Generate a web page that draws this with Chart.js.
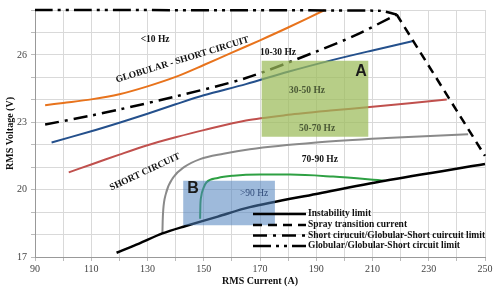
<!DOCTYPE html>
<html>
<head>
<meta charset="utf-8">
<script src="https://cdn.jsdelivr.net/npm/chart.js@4.4.1/dist/chart.umd.min.js"></script>
<style>
  html, body { margin: 0; padding: 0; background: #fff; }
</style>
</head>
<body>
<canvas id="myChart" width="500" height="291"></canvas>
<script>
// curves: current (A) / voltage (V)
const globShortI = [93.6, 100, 110, 120, 130, 140, 150, 160, 170, 180, 193];
const globShortV = [23.76, 23.86, 24.02, 24.25, 24.6, 25.02, 25.55, 26.1, 26.65, 27.22, 28.0];

const shortLimitI = [93.6, 110, 120, 140, 165, 190, 204, 218.6];
const shortLimitV = [22.9, 23.3, 23.57, 24.15, 24.97, 26.15, 26.88, 27.8];

const hz30I = [95.9, 110, 120, 130, 140, 150, 165, 180, 196, 210, 224.5];
const hz30V = [22.1, 22.6, 22.98, 23.38, 23.8, 24.2, 24.7, 25.25, 25.78, 26.2, 26.62];

const hz50I = [102, 110, 120, 130, 140, 150, 165, 180, 195, 210, 236.4];
const hz50V = [20.77, 21.12, 21.56, 21.98, 22.33, 22.65, 23.08, 23.33, 23.52, 23.69, 24.01];

const hz70I = [135.3, 135.4, 135.6, 136.5, 139.2, 143, 148.7, 157, 166.4, 190, 215, 244];
const hz70V = [18.05, 18.6, 19.1, 19.8, 20.55, 21.0, 21.36, 21.6, 21.8, 22.1, 22.3, 22.47];

const hz90I = [148.7, 148.8, 149.1, 150, 151, 155, 160.5, 170, 180.7, 196, 214.4];
const hz90V = [18.7, 19.3, 19.7, 20.1, 20.33, 20.52, 20.62, 20.67, 20.67, 20.58, 20.4];

const instabI = [119, 127, 135.3, 143.3, 155, 166.4, 190, 214.4, 250];
const instabV = [17.19, 17.6, 18.05, 18.37, 18.8, 19.22, 19.81, 20.4, 21.14];

const globLimitI = [90, 212, 218.6];
const globLimitV = [28, 27.97, 27.8];

const sprayI = [218.6, 250];
const sprayV = [27.8, 21.5];

// shaded regions A and B: [min, max]
const boxAI = [170.6, 208.5];
const boxAV = [22.36, 25.74];
const boxBI = [142.7, 175.3];
const boxBV = [18.41, 20.4];

const legendLabels = [
  "Instability limit",
  "Spray transition current",
  "Short cirucuit/Globular-Short cuircuit limit",
  "Globular/Globular-Short circuit limit",
];

const noteText = ["<10 Hz", "GLOBULAR - SHORT CIRCUIT", "10-30 Hz", "30-50 Hz", "50-70 Hz",
  "SHORT CIRCUIT", "70-90 Hz", ">90 Hz", "A", "B"];
const noteI = [132.7, 142.4, 176.4, 186.7, 190.3, 129.1, 191.3, 167.9, 205.9, 146.2];
const noteV = [26.68, 25.78, 26.1, 24.42, 22.74, 20.78, 21.33, 19.83, 25.26, 20.05];

const pts = (xs, ys) => xs.map((x, i) => ({ x: x, y: ys[i] }));
const rect = (xs, ys) => [
  { x: xs[0], y: ys[0] }, { x: xs[1], y: ys[0] }, { x: xs[1], y: ys[1] },
  { x: xs[0], y: ys[1] }, { x: xs[0], y: ys[0] },
];

const noteStyle = [
  { font: "bold 9.5px 'Liberation Serif'", color: "#111", angle: 0 },
  { font: "bold 9.5px 'Liberation Serif'", color: "#111", angle: -17 },
  { font: "bold 9.5px 'Liberation Serif'", color: "#111", angle: 0 },
  { font: "bold 9.5px 'Liberation Serif'", color: "#4b5a36", angle: 0 },
  { font: "bold 9.5px 'Liberation Serif'", color: "#4b5a36", angle: 0 },
  { font: "bold 9.5px 'Liberation Serif'", color: "#111", angle: -25 },
  { font: "bold 9.5px 'Liberation Serif'", color: "#111", angle: 0 },
  { font: "9.5px 'Liberation Serif'", color: "#2f4a78", angle: 0 },
  { font: "bold 16px 'Liberation Sans'", color: "#1a1a1a", angle: 0 },
  { font: "bold 16px 'Liberation Sans'", color: "#1a1a1a", angle: 0 },
];

const notesPlugin = {
  id: "notes",
  afterDatasetsDraw(chart) {
    const { ctx, scales: { x, y } } = chart;
    noteText.forEach((t, i) => {
      const s = noteStyle[i];
      ctx.save();
      ctx.translate(x.getPixelForValue(noteI[i]), y.getPixelForValue(noteV[i]));
      ctx.rotate(s.angle * Math.PI / 180);
      ctx.font = s.font;
      ctx.fillStyle = s.color;
      ctx.textAlign = "center";
      ctx.textBaseline = "middle";
      ctx.fillText(t, 0, 0);
      ctx.restore();
    });

    // legend inside the plot, bottom right
    const rows = [214, 225, 235.5, 246];
    legendLabels.forEach((label, i) => {
      const ds = chart.data.datasets[i];
      ctx.save();
      ctx.strokeStyle = "#000";
      ctx.lineWidth = 2.5;
      ctx.setLineDash(ds.borderDash || []);
      ctx.beginPath();
      ctx.moveTo(253, rows[i]);
      ctx.lineTo(306, rows[i]);
      ctx.stroke();
      ctx.font = "bold 9.5px 'Liberation Serif'";
      ctx.fillStyle = "#111";
      ctx.textBaseline = "middle";
      ctx.fillText(label, 308, rows[i]);
      ctx.restore();
    });
  },
};

const line = (data, color, width, dash, mono) => ({
  data: data,
  showLine: true,
  borderColor: color,
  borderWidth: width,
  borderDash: dash,
  pointRadius: 0,
  fill: false,
  clip: false,
  tension: 0.3,
  cubicInterpolationMode: mono ? "monotone" : "default",
});

const ctx = document.getElementById("myChart");

new Chart(ctx, {
  type: "scatter",
  data: {
    datasets: [
      line(pts(instabI, instabV), "#000", 2.5, []),
      line(pts(sprayI, sprayV), "#000", 2.5, [9, 6]),
      line(pts(shortLimitI, shortLimitV), "#000", 2.5, [14, 6, 3, 6]),
      line(pts(globLimitI, globLimitV), "#000", 2.5, [18, 5, 3, 5, 3, 5]),
      line(pts(globShortI, globShortV), "#e8731c", 2, []),
      line(pts(hz30I, hz30V), "#24508c", 2, []),
      line(pts(hz50I, hz50V), "#c0504d", 2, []),
      line(pts(hz70I, hz70V), "#8a8a8a", 2, [], true),
      line(pts(hz90I, hz90V), "#2ea043", 2, [], true),
      {
        data: rect(boxAI, boxAV),
        showLine: true,
        borderWidth: 0,
        borderColor: "rgba(0,0,0,0)",
        backgroundColor: "rgba(155,187,89,0.72)",
        pointRadius: 0,
        fill: "shape",
        tension: 0,
        order: -1,
      },
      {
        data: rect(boxBI, boxBV),
        showLine: true,
        borderWidth: 0,
        borderColor: "rgba(0,0,0,0)",
        backgroundColor: "rgba(79,129,189,0.55)",
        pointRadius: 0,
        fill: "shape",
        tension: 0,
        order: -1,
      },
    ],
  },
  options: {
    responsive: false,
    animation: false,
    layout: { padding: { top: 8, right: 15, left: 0, bottom: 0 } },
    plugins: { legend: { display: false }, tooltip: { enabled: false } },
    scales: {
      x: {
        type: "linear",
        min: 90,
        max: 250,
        afterFit: (scale) => { scale.height = 34; },
        ticks: {
          stepSize: 10,
          padding: 2,
          color: "#444",
          font: { family: "'Liberation Serif'", size: 10 },
          callback: (v) => ((v - 90) % 20 === 0 ? v : ""),
        },
        grid: { color: "#d9d9d9", tickLength: 4, tickColor: "#bbb" },
        border: { color: "#999" },
        title: {
          display: true,
          text: "RMS Current (A)",
          color: "#111",
          padding: { top: 0, bottom: 4 },
          font: { family: "'Liberation Serif'", size: 10, weight: "bold" },
        },
      },
      y: {
        min: 17,
        max: 28,
        afterFit: (scale) => { scale.width = 35; },
        ticks: {
          stepSize: 1,
          padding: 4,
          color: "#444",
          font: { family: "'Liberation Serif'", size: 10 },
          callback: (v) => ((v - 17) % 3 === 0 ? v : ""),
        },
        grid: { color: "#d9d9d9", tickLength: 4, tickColor: "#bbb" },
        border: { color: "#999" },
        title: {
          display: true,
          text: "RMS Voltage (V)",
          color: "#111",
          padding: { top: 4, bottom: 0 },
          font: { family: "'Liberation Serif'", size: 10, weight: "bold" },
        },
      },
    },
  },
  plugins: [notesPlugin],
});
</script>
</body>
</html>
